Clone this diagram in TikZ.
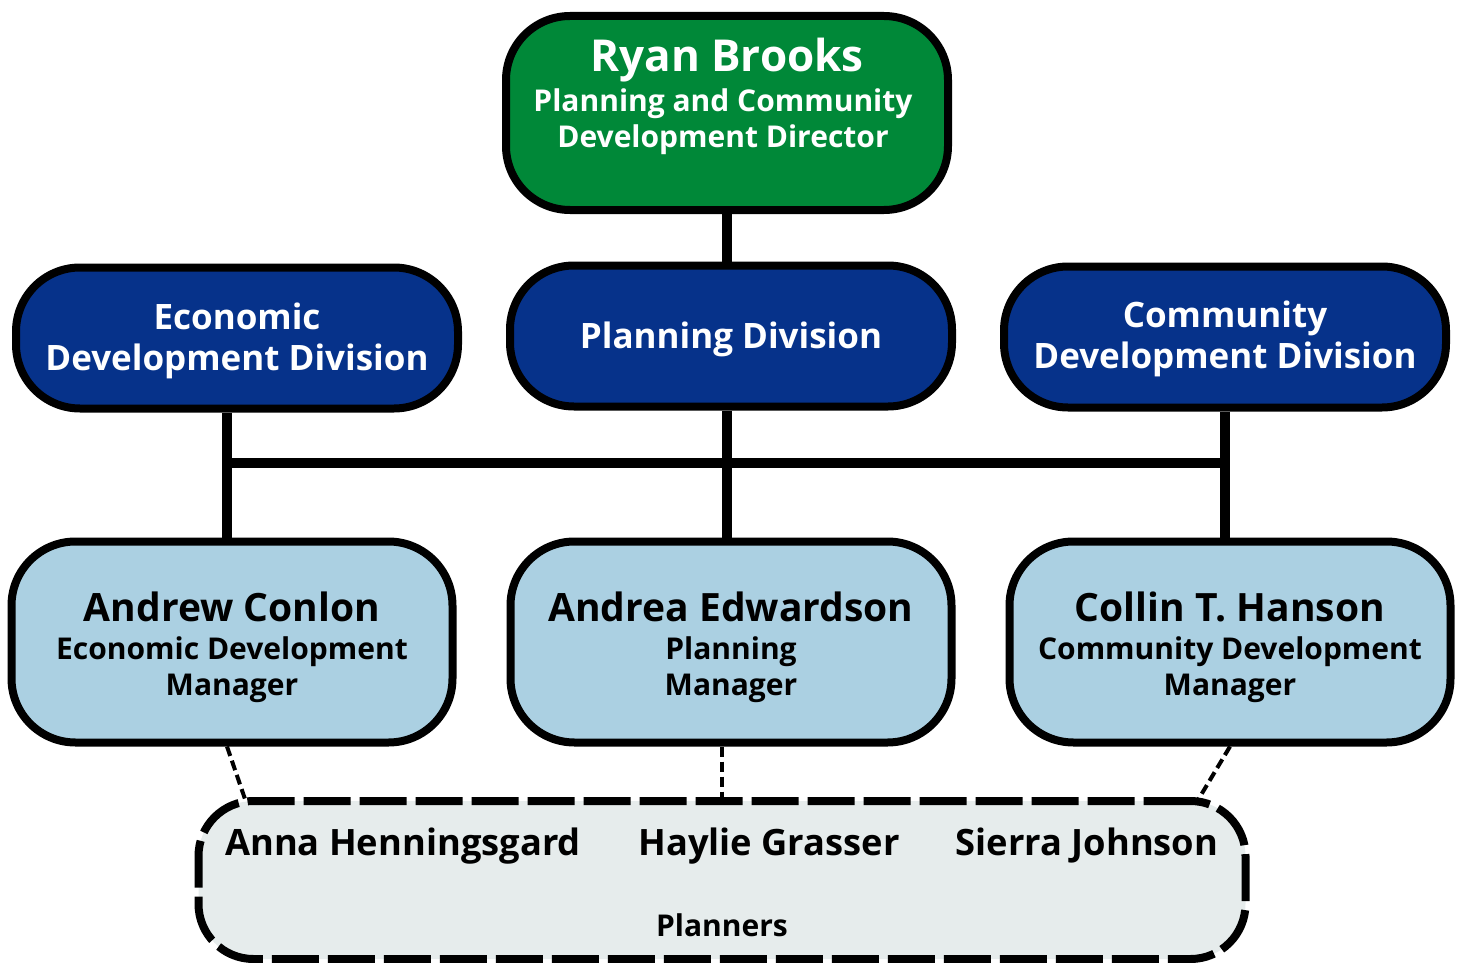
\documentclass[tikz,border=0pt]{standalone}
\usepackage{fontspec}
\setmainfont{Open Sans}[BoldFont={* Bold}]
\definecolor{dgreen}{RGB}{0,136,56}
\definecolor{dblue}{RGB}{6,50,138}
\definecolor{lblue}{RGB}{171,208,226}
\definecolor{lgray}{RGB}{230,236,236}
\begin{document}
\begin{tikzpicture}[x=1pt,y=-1pt,
  box/.style={draw=black,line width=8pt,rounded corners=64pt,inner sep=0pt,align=center},
  topbox/.style={box,fill=dgreen,minimum width=442pt,minimum height=194pt},
  divbox/.style={box,fill=dblue,minimum width=442pt,minimum height=141pt},
  divtext/.style={text=white,align=center,font=\bfseries\fontsize{35}{41}\selectfont},
  mgrbox/.style={box,fill=lblue,minimum width=441pt,minimum height=201pt},
  plbox/.style={draw=black,line width=8pt,rounded corners=55pt,fill=lgray,dash pattern=on 47pt off 9pt,minimum width=1047pt,minimum height=158pt,inner sep=0pt},
  conn/.style={line width=10pt},
  dconn/.style={line width=4pt,dash pattern=on 10pt off 5pt},
  mname/.style={font=\bfseries\fontsize{39}{44}\selectfont},
  mtitle/.style={font=\bfseries\fontsize{30}{36}\selectfont,align=center},
  plname/.style={font=\bfseries\fontsize{36.3}{40}\selectfont}]
\useasboundingbox (0,0) rectangle (1465,963);
\coordinate (busL) at (227,463);
\coordinate (busR) at (1225,463);
\coordinate (busM) at (727,463);
\node[topbox] (top) at (727,113) {};
\node[divbox] (econ) at (237,338) {};
\node[divbox] (plan) at (731,336) {};
\node[divbox] (comm) at (1225,337) {};
\node[mgrbox] (andrew) at (232,642) {};
\node[mgrbox] (andrea) at (731,642) {};
\node[mgrbox] (collin) at (1230,642) {};
\draw[conn] (top.south -| busM) -- (plan.north -| busM);
\draw[conn] (econ.south -| busL) -- (andrew.north -| busL);
\draw[conn] (plan.south -| busM) -- (andrea.north -| busM);
\draw[conn] (comm.south -| busR) -- (collin.north -| busR);
\draw[conn] (busL) -- (busR);
\node[plbox] (planners) at (722,880) {};
\coordinate (pA) at (245,799);
\coordinate (pC) at (1198,800);
\draw[dconn] (andrew.south -| busL) -- (pA);
\draw[dconn] (andrea.south -| planners.north) -- (planners.north);
\draw[dconn] (collin.south) -- (pC);
% texts
\node[text=white,font=\bfseries\fontsize{44}{44}\selectfont] (topname) at (727,60) {Ryan Brooks};
\node[text=white,align=center,font=\bfseries\fontsize{30}{36}\selectfont] (toptitle) at (723,121.5) {Planning and Community\\Development Director};
\node[divtext] (econt) at (237,341) {Economic\\Development Division};
\node[divtext] (plant) at (731,339) {Planning Division};
\node[divtext] (commt) at (1225,339) {Community\\Development Division};
\node[mname] (andrewn) at (232,607) {Andrew Conlon};
\node[mtitle] (andrewt) at (232,670) {Economic Development\\Manager};
\node[mname] (andrean) at (731,607) {Andrea Edwardson};
\node[mtitle] (andreat) at (731,670) {Planning\\Manager};
\node[mname] (collinn) at (1230,607) {Collin T. Hanson};
\node[mtitle] (collint) at (1230,670) {Community Development\\Manager};
\node[plname] (anna) at (403,846) {Anna Henningsgard};
\node[plname] (haylie) at (769,846) {Haylie Grasser};
\node[plname] (sierra) at (1087,846) {Sierra Johnson};
\node[mtitle] (pltitle) at (722,925) {Planners};
\end{tikzpicture}
\end{document}
